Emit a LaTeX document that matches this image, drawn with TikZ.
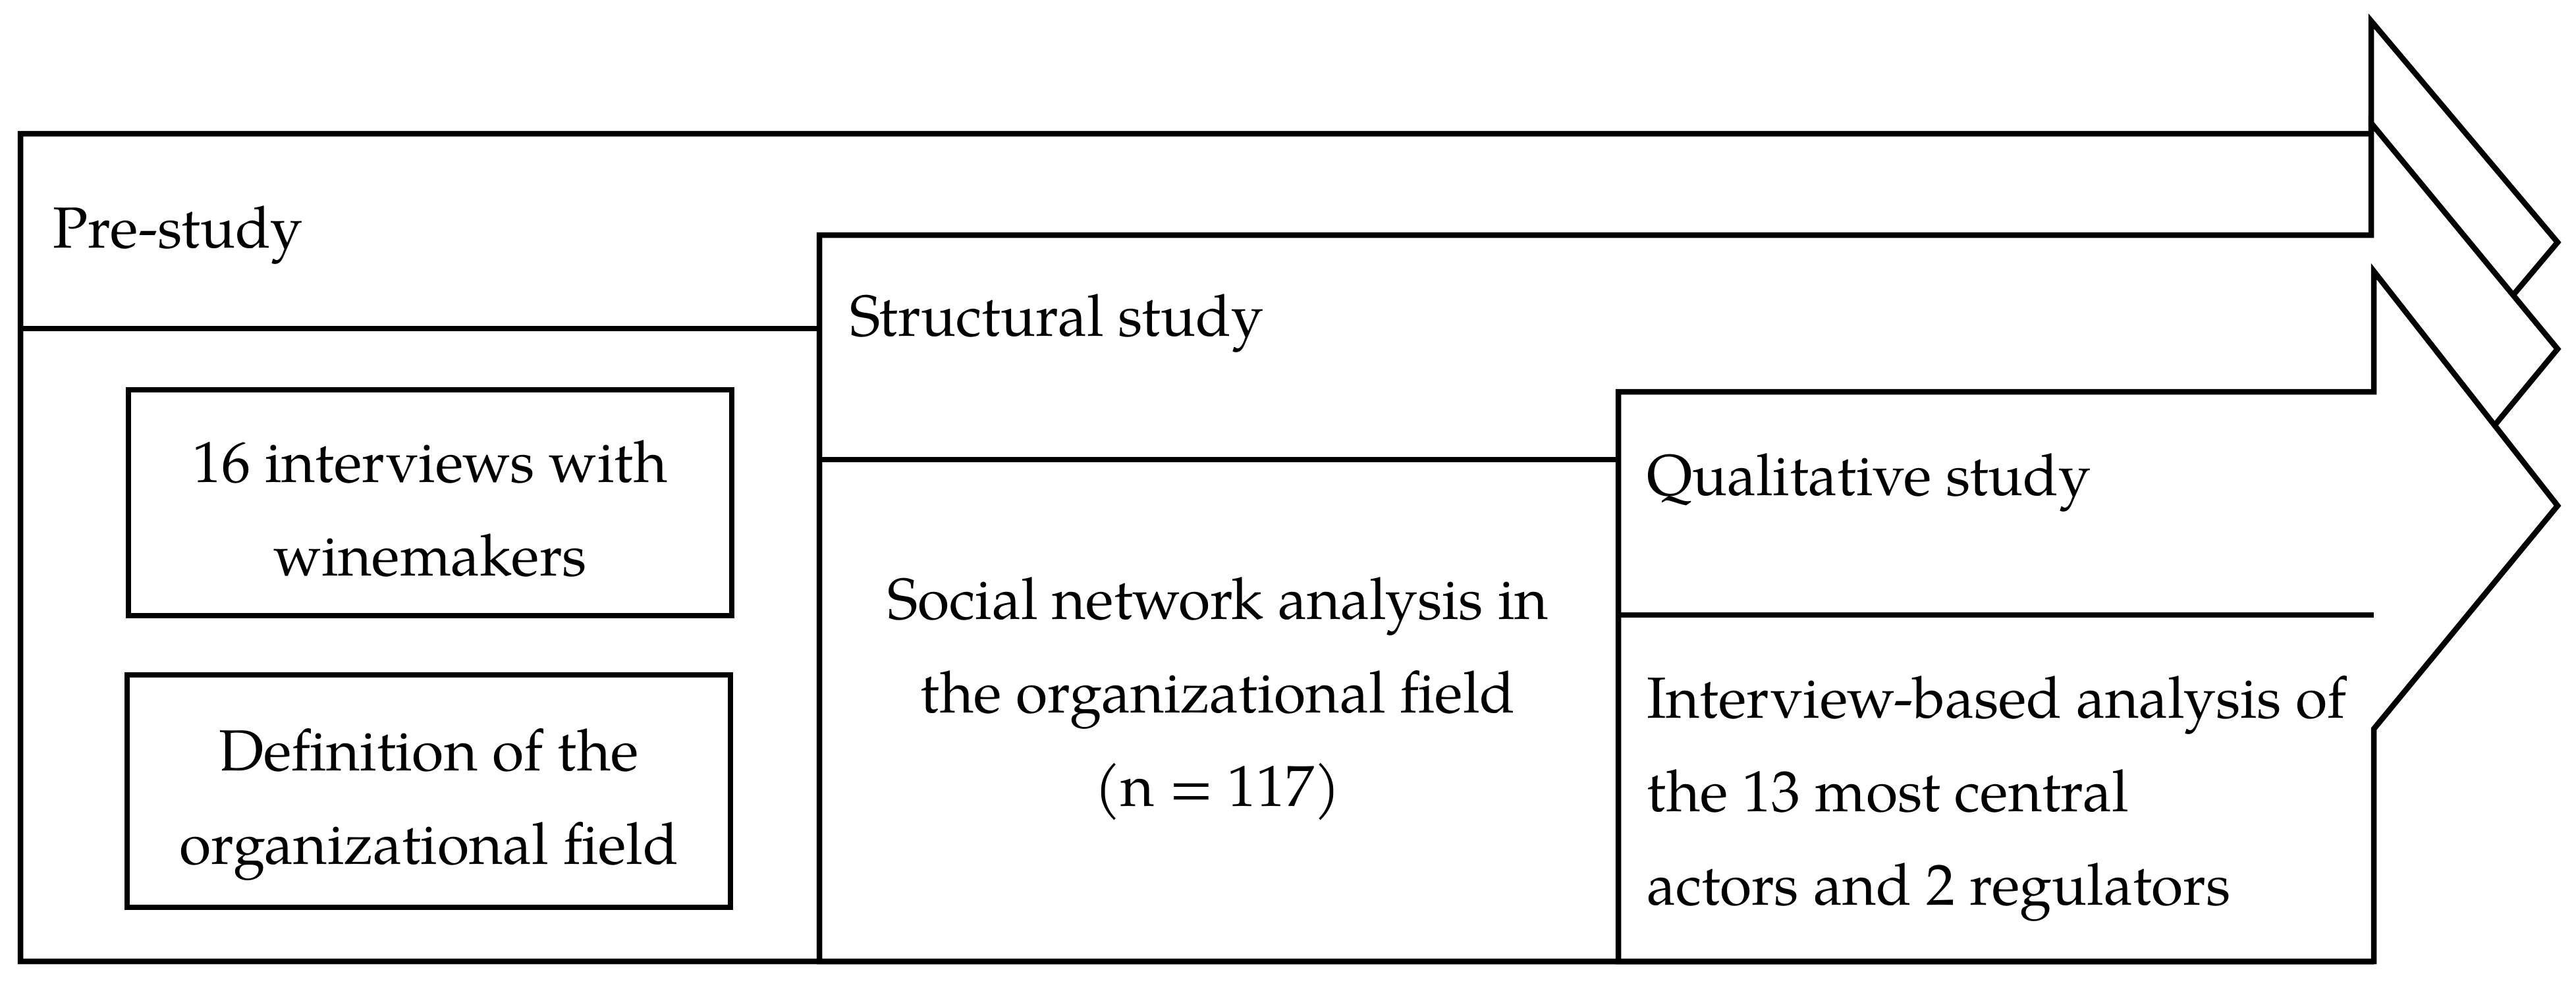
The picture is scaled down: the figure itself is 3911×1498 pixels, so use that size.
\documentclass[tikz,border=0pt]{standalone}
\usepackage{fontspec}
\setmainfont{texgyrepagella}[Extension=.otf,UprightFont=*-regular,BoldFont=*-bold,ItalicFont=*-italic,BoldItalicFont=*-bolditalic]
\begin{document}
\begin{tikzpicture}[x=0.1pt,y=-0.1pt,
  stage/.style={draw=black, fill=white, line width=0.85pt, line join=miter},
  bandline/.style={draw=black, line width=0.85pt},
  txt/.style={inner sep=0pt, font=\fontsize{8.8}{14.2}\selectfont},
  head/.style={txt, anchor=base west},
  centre/.style={txt, align=center, anchor=north},
  lefttxt/.style={txt, align=left, anchor=north west},
  innerbox/.style={draw=black, line width=0.85pt, inner sep=0pt, minimum width=91.6pt, minimum height=34.3pt}]
\useasboundingbox (0,0) rectangle (3911,1498);

% Pre-study arrow and box
\path[stage] (31,203) -- (3600,203) -- (3600,32) -- (3883,368) -- (3600,704)
  -- (3600,1460) -- (31,1460) -- cycle;
\path[bandline] (31,499) -- (1244,499);

% Structural study arrow and box
\path[stage] (1244,357) -- (3600,357) -- (3600,187) -- (3883,530) -- (3600,873)
  -- (3600,1460) -- (1244,1460) -- cycle;
\path[bandline] (1244,698) -- (2457,698);

% Qualitative study arrow and box
\path[stage] (2457,595) -- (3604,595) -- (3604,412) -- (3883,768) -- (3604,1107)
  -- (3604,1460) -- (2457,1460) -- cycle;
\path[bandline] (2457,934) -- (3604,934);

% headings
\node[head] (pre) at (78,376) {Pre-study};
\node[head] (struct) at (1288,510) {Structural study};
\node[head] (qual) at (2498,752) {Qualitative study};

% inner boxes of the pre-study
\node[innerbox] (box1) at (653,763.5) {};
\node[innerbox, minimum height=35.3pt] (box2) at (651,1201.5) {};
\node[centre] (t1) at (653,630.6) {\strut 16 interviews with\\winemakers};
\node[centre] (t2) at (651,1068.6) {\strut Definition of the\\organizational field};

% structural body
\node[centre] (t3) at (1849,838.6) {\strut Social network analysis in\\the organizational field\\(n = 117)};

% qualitative body
\node[lefttxt] (t4) at (2498,988.6) {\strut Interview-based analysis of\\the 13 most central\\actors and 2 regulators};
\end{tikzpicture}
\end{document}
